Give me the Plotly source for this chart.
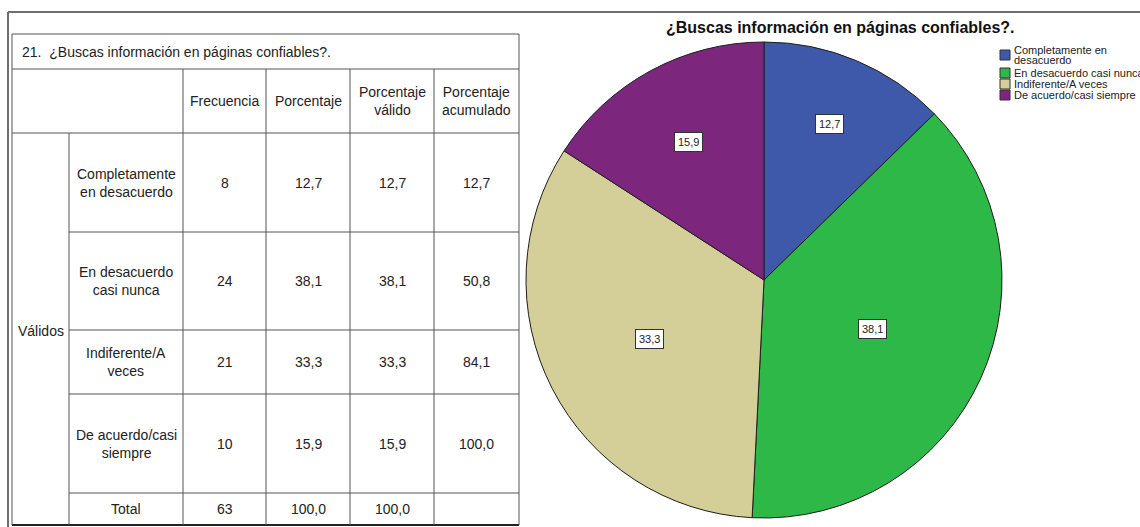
import math
import plotly.graph_objects as go

# datos de la tabla / grafico
categorias = ["Completamente en desacuerdo", "En desacuerdo casi nunca",
              "Indiferente/A veces", "De acuerdo/casi siempre"]
etiquetas_tabla = ["Completamente<br>en desacuerdo", "En desacuerdo<br>casi nunca",
                   "Indiferente/A<br>veces", "De acuerdo/casi<br>siempre"]
etiquetas_leyenda = [["Completamente en", "desacuerdo"], ["En desacuerdo casi nunca"],
                     ["Indiferente/A veces"], ["De acuerdo/casi siempre"]]
frecuencia = [8, 24, 21, 10]
porcentaje = [12.7, 38.1, 33.3, 15.9]
porcentaje_valido = [12.7, 38.1, 33.3, 15.9]
porcentaje_acumulado = [12.7, 50.8, 84.1, 100.0]
total_frecuencia = 63
total_porcentaje = 100.0
total_valido = 100.0
encabezados = ["Frecuencia", "Porcentaje", "Porcentaje<br>válido", "Porcentaje<br>acumulado"]
titulo_tabla = "21.  ¿Buscas información en páginas confiables?."
titulo_grafico = "<b>¿Buscas información en páginas confiables?.</b>"

colores = ["#3e58aa", "#2db848", "#d4ce98", "#7d267d"]

W, H = 1140, 527
FONT = "Liberation Sans, Arial, sans-serif"
LINE = "#555555"


def fmt(v):
    return f"{v:.1f}".replace(".", ",")


fig = go.Figure()

# --- pie ---
cx, cy, r = 764, 280, 238
fig.add_trace(go.Pie(
    labels=categorias,
    values=frecuencia,
    sort=False,
    direction="clockwise",
    rotation=0,
    marker=dict(colors=colores, line=dict(color="#1e1e1e", width=1)),
    textinfo="none",
    hoverinfo="label+percent",
    showlegend=False,
    domain=dict(x=[(cx - r) / W, (cx + r) / W], y=[1 - (cy + r) / H, 1 - (cy - r) / H]),
))

anns = []
shapes = []

# etiquetas de porcentaje en los sectores
radio_etiqueta = [0.71, 0.50, 0.54, 0.66]
acum = 0
for p, f in zip(porcentaje, radio_etiqueta):
    mid = (acum + p / 2) / 100 * 2 * math.pi
    acum += p
    anns.append(dict(
        x=cx + r * f * math.sin(mid), y=cy - r * f * math.cos(mid),
        xref="x", yref="y", text=fmt(p), showarrow=False,
        font=dict(family=FONT, size=11, color="#222"),
        bgcolor="white", bordercolor="#333", borderwidth=1, borderpad=3,
    ))

# leyenda manual (lineas con poco interlineado, como en SPSS)
ley_y = [55, 73, 84, 95]
for lineas, col, yy in zip(etiquetas_leyenda, colores, ley_y):
    fig.add_trace(go.Scatter(
        x=[1005], y=[yy], mode="markers", showlegend=False, hoverinfo="skip",
        marker=dict(symbol="square", size=10, color=col, line=dict(color="#333", width=1)),
    ))
    n = len(lineas)
    for i, txt in enumerate(lineas):
        anns.append(dict(
            x=1012, y=yy + (i - (n - 1) / 2) * 10, xref="x", yref="y", text=txt,
            showarrow=False, xanchor="left", yanchor="middle", align="left",
            font=dict(family=FONT, size=11, color="#222"),
        ))

anns.append(dict(
    x=840, y=27, xref="x", yref="y", text=titulo_grafico, showarrow=False,
    font=dict(family=FONT, size=16, color="#111"),
))

# --- marco exterior ---
shapes.append(dict(type="line", x0=8, x1=W, y0=12, y1=12, xref="x", yref="y",
                   line=dict(color="#6e6e6e", width=2)))
shapes.append(dict(type="line", x0=8, x1=8, y0=12, y1=H, xref="x", yref="y",
                   line=dict(color="#6e6e6e", width=2)))

# --- tabla ---
col_x = [12, 69, 183, 266, 350, 434, 519]
row_y = [34, 69, 133, 232, 330, 394, 493, 525]


def hline(y, x0, x1):
    shapes.append(dict(type="line", x0=x0, x1=x1, y0=y, y1=y, xref="x", yref="y",
                       line=dict(color=LINE, width=1)))


def vline(x, y0, y1):
    shapes.append(dict(type="line", x0=x, x1=x, y0=y0, y1=y1, xref="x", yref="y",
                       line=dict(color=LINE, width=1)))


hline(row_y[0], col_x[0], col_x[-1])
hline(row_y[1], col_x[0], col_x[-1])
hline(row_y[2], col_x[0], col_x[-1])
for yy in row_y[3:7]:
    hline(yy, col_x[1], col_x[-1])
shapes.append(dict(type="line", x0=col_x[0], x1=col_x[-1], y0=row_y[-1], y1=row_y[-1],
                   xref="x", yref="y", line=dict(color="#222", width=2)))
vline(col_x[0], row_y[0], row_y[-1])
vline(col_x[-1], row_y[0], row_y[-1])
vline(col_x[1], row_y[2], row_y[-1])
for xx in col_x[2:6]:
    vline(xx, row_y[1], row_y[-1])


def cell_text(x, y, txt, anchor="center"):
    anns.append(dict(x=x, y=y, xref="x", yref="y", text=txt, showarrow=False,
                     xanchor=anchor, yanchor="middle", align="center",
                     font=dict(family=FONT, size=14, color="#222")))


cell_text(20, (row_y[0] + row_y[1]) / 2, titulo_tabla, anchor="left")
for i, enc in enumerate(encabezados):
    cell_text((col_x[i + 2] + col_x[i + 3]) / 2, (row_y[1] + row_y[2]) / 2, enc)

cell_text((col_x[0] + col_x[1]) / 2, (row_y[2] + row_y[-1]) / 2 + 2, "Válidos")

filas = list(zip(etiquetas_tabla, frecuencia, porcentaje, porcentaje_valido, porcentaje_acumulado))
for k, (lab, fr, p, pv, pa) in enumerate(filas):
    ym = (row_y[k + 2] + row_y[k + 3]) / 2
    vals = [lab, str(fr), fmt(p), fmt(pv), fmt(pa)]
    for j, v in enumerate(vals):
        cell_text((col_x[j + 1] + col_x[j + 2]) / 2, ym, v)

ym = (row_y[6] + row_y[7]) / 2
for j, v in enumerate(["Total", str(total_frecuencia), fmt(total_porcentaje), fmt(total_valido), ""]):
    if v:
        cell_text((col_x[j + 1] + col_x[j + 2]) / 2, ym, v)

fig.update_layout(
    width=W, height=H,
    margin=dict(l=0, r=0, t=0, b=0),
    paper_bgcolor="white", plot_bgcolor="rgba(0,0,0,0)",
    xaxis=dict(range=[0, W], visible=False, fixedrange=True),
    yaxis=dict(range=[H, 0], visible=False, fixedrange=True),
    shapes=shapes,
    annotations=anns,
    showlegend=False,
)

# la pagina por defecto tiene margen de 8px en el body
fig.write_html("out.html", config={"displayModeBar": False},
               post_script="document.body.style.margin='0';document.body.style.overflow='hidden';")
